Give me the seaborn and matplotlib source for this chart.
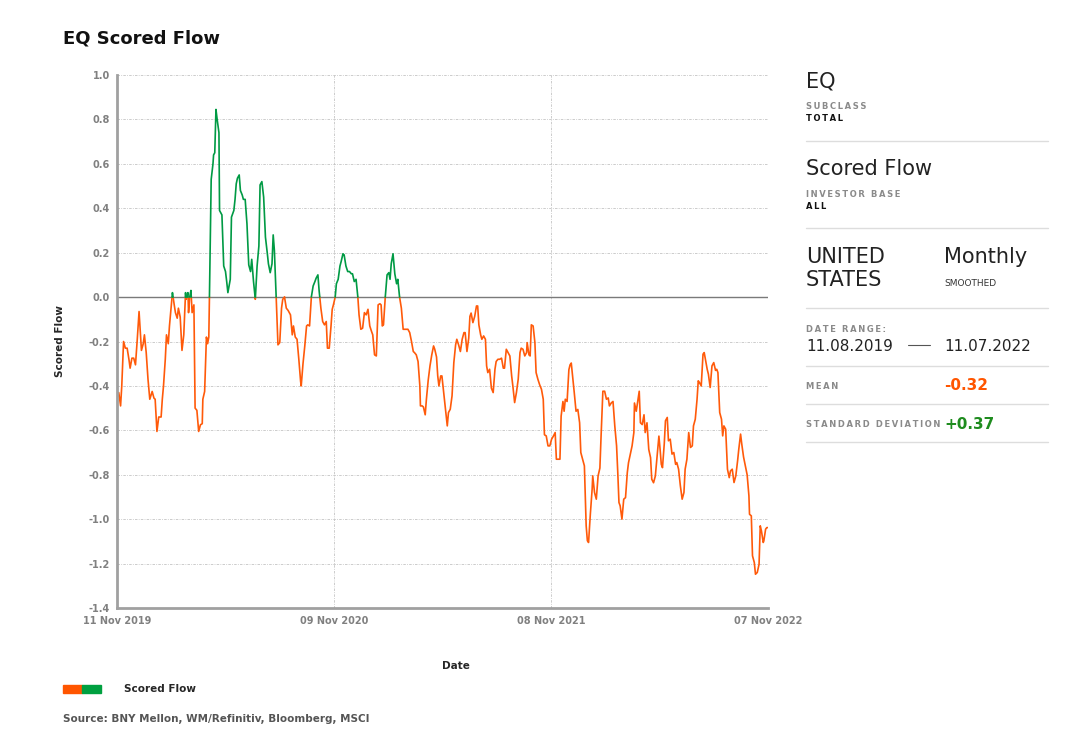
import pandas as pd
import numpy as np
import matplotlib
matplotlib.use('Agg')
import matplotlib.pyplot as plt
import matplotlib.dates as mdates
from matplotlib.patches import Rectangle
from matplotlib.lines import Line2D
import seaborn as sns

# scored flow values
dates = [
    '2019-11-11', '2019-11-14', '2019-11-17', '2019-11-19', '2019-11-22', '2019-11-25', '2019-11-28',
    '2019-12-01', '2019-12-03', '2019-12-06', '2019-12-09', '2019-12-12', '2019-12-15', '2019-12-18',
    '2019-12-22', '2019-12-25', '2019-12-27', '2019-12-30', '2020-01-02', '2020-01-05', '2020-01-09',
    '2020-01-12', '2020-01-14', '2020-01-17', '2020-01-20', '2020-01-24', '2020-01-26', '2020-01-28',
    '2020-01-31', '2020-02-02', '2020-02-05', '2020-02-07', '2020-02-10', '2020-02-12', '2020-02-15',
    '2020-02-17', '2020-02-20', '2020-02-22', '2020-02-25', '2020-02-28', '2020-03-02', '2020-03-05',
    '2020-03-06', '2020-03-09', '2020-03-10', '2020-03-12', '2020-03-14', '2020-03-16', '2020-03-19',
    '2020-03-21', '2020-03-24', '2020-03-27', '2020-03-30', '2020-04-02', '2020-04-03', '2020-04-06',
    '2020-04-09', '2020-04-11', '2020-04-13', '2020-04-14', '2020-04-17', '2020-04-20', '2020-04-21',
    '2020-04-23', '2020-04-25', '2020-04-27', '2020-04-30', '2020-05-01', '2020-05-05', '2020-05-08',
    '2020-05-11', '2020-05-13', '2020-05-15', '2020-05-17', '2020-05-19', '2020-05-21', '2020-05-25',
    '2020-05-27', '2020-05-29', '2020-05-31', '2020-06-03', '2020-06-05', '2020-06-08', '2020-06-10',
    '2020-06-13', '2020-06-16', '2020-06-19', '2020-06-22', '2020-06-24', '2020-06-27', '2020-06-30',
    '2020-07-03', '2020-07-06', '2020-07-08', '2020-07-11', '2020-07-14', '2020-07-17', '2020-07-20',
    '2020-07-22', '2020-07-25', '2020-07-28', '2020-07-30', '2020-08-01', '2020-08-04', '2020-08-07',
    '2020-08-10', '2020-08-13', '2020-08-15', '2020-08-18', '2020-08-21', '2020-08-24', '2020-08-28',
    '2020-08-31', '2020-09-02', '2020-09-05', '2020-09-08', '2020-09-11', '2020-09-14', '2020-09-15',
    '2020-09-18', '2020-09-21', '2020-09-24', '2020-09-26', '2020-09-29', '2020-10-02', '2020-10-05',
    '2020-10-08', '2020-10-10', '2020-10-13', '2020-10-15', '2020-10-18', '2020-10-21', '2020-10-24',
    '2020-10-27', '2020-10-29', '2020-11-01', '2020-11-04', '2020-11-06', '2020-11-08', '2020-11-11',
    '2020-11-13', '2020-11-16', '2020-11-19', '2020-11-21', '2020-11-24', '2020-11-26', '2020-11-29',
    '2020-12-02', '2020-12-05', '2020-12-08', '2020-12-10', '2020-12-13', '2020-12-16', '2020-12-19',
    '2020-12-21', '2020-12-24', '2020-12-27', '2020-12-30', '2021-01-02', '2021-01-05', '2021-01-08',
    '2021-01-11', '2021-01-13', '2021-01-16', '2021-01-19', '2021-01-22', '2021-01-25', '2021-01-27',
    '2021-01-29', '2021-01-31', '2021-02-03', '2021-02-06', '2021-02-09', '2021-02-11', '2021-02-13',
    '2021-02-16', '2021-02-19', '2021-02-22', '2021-02-24', '2021-02-27', '2021-03-02', '2021-03-05',
    '2021-03-08', '2021-03-10', '2021-03-13', '2021-03-16', '2021-03-19', '2021-03-22', '2021-03-24',
    '2021-03-27', '2021-03-30', '2021-04-02', '2021-04-03', '2021-04-06', '2021-04-08', '2021-04-11',
    '2021-04-13', '2021-04-16', '2021-04-19', '2021-04-22', '2021-04-25', '2021-04-27', '2021-04-30',
    '2021-05-02', '2021-05-04', '2021-05-07', '2021-05-09', '2021-05-12', '2021-05-15', '2021-05-18',
    '2021-05-20', '2021-05-23', '2021-05-26', '2021-05-29', '2021-06-01', '2021-06-03', '2021-06-06',
    '2021-06-09', '2021-06-12', '2021-06-15', '2021-06-17', '2021-06-20', '2021-06-23', '2021-06-25',
    '2021-06-27', '2021-06-30', '2021-07-03', '2021-07-06', '2021-07-08', '2021-07-10', '2021-07-13',
    '2021-07-15', '2021-07-18', '2021-07-21', '2021-07-23', '2021-07-25', '2021-07-28', '2021-07-31',
    '2021-08-03', '2021-08-06', '2021-08-08', '2021-08-11', '2021-08-14', '2021-08-17', '2021-08-20',
    '2021-08-22', '2021-08-25', '2021-08-28', '2021-08-31', '2021-09-03', '2021-09-05', '2021-09-08',
    '2021-09-11', '2021-09-14', '2021-09-17', '2021-09-19', '2021-09-22', '2021-09-25', '2021-09-28',
    '2021-09-29', '2021-10-02', '2021-10-04', '2021-10-06', '2021-10-09', '2021-10-12', '2021-10-14',
    '2021-10-17', '2021-10-20', '2021-10-23', '2021-10-26', '2021-10-28', '2021-10-31', '2021-11-03',
    '2021-11-06', '2021-11-09', '2021-11-12', '2021-11-15', '2021-11-17', '2021-11-20', '2021-11-23',
    '2021-11-25', '2021-11-28', '2021-11-30', '2021-12-02', '2021-12-05', '2021-12-08', '2021-12-10',
    '2021-12-12', '2021-12-14', '2021-12-17', '2021-12-20', '2021-12-23', '2021-12-26', '2021-12-28',
    '2021-12-31', '2022-01-03', '2022-01-06', '2022-01-08', '2022-01-10', '2022-01-13', '2022-01-16',
    '2022-01-17', '2022-01-20', '2022-01-23', '2022-01-26', '2022-01-29', '2022-01-31', '2022-02-03',
    '2022-02-06', '2022-02-09', '2022-02-12', '2022-02-14', '2022-02-17', '2022-02-20', '2022-02-23',
    '2022-02-26', '2022-02-28', '2022-03-02', '2022-03-04', '2022-03-07', '2022-03-10', '2022-03-13',
    '2022-03-16', '2022-03-18', '2022-03-21', '2022-03-24', '2022-03-27', '2022-03-28', '2022-03-31',
    '2022-04-03', '2022-04-05', '2022-04-07', '2022-04-10', '2022-04-13', '2022-04-15', '2022-04-18',
    '2022-04-21', '2022-04-24', '2022-04-26', '2022-04-29', '2022-05-02', '2022-05-05', '2022-05-08',
    '2022-05-10', '2022-05-12', '2022-05-14', '2022-05-17', '2022-05-19', '2022-05-22', '2022-05-24',
    '2022-05-27', '2022-05-30', '2022-06-02', '2022-06-05', '2022-06-07', '2022-06-10', '2022-06-13',
    '2022-06-16', '2022-06-19', '2022-06-21', '2022-06-24', '2022-06-27', '2022-06-30', '2022-07-03',
    '2022-07-05', '2022-07-08', '2022-07-11', '2022-07-13', '2022-07-15', '2022-07-18', '2022-07-21',
    '2022-07-23', '2022-07-25', '2022-07-28', '2022-07-30', '2022-08-02', '2022-08-05', '2022-08-08',
    '2022-08-11', '2022-08-13', '2022-08-15', '2022-08-18', '2022-08-21', '2022-08-23', '2022-08-25',
    '2022-08-28', '2022-08-31', '2022-09-03', '2022-09-05', '2022-09-08', '2022-09-11', '2022-09-14',
    '2022-09-17', '2022-09-19', '2022-09-22', '2022-09-24', '2022-09-27', '2022-09-30', '2022-10-03',
    '2022-10-06', '2022-10-07', '2022-10-10', '2022-10-12', '2022-10-15', '2022-10-17', '2022-10-20',
    '2022-10-23', '2022-10-25', '2022-10-27', '2022-10-30', '2022-10-31', '2022-11-03', '2022-11-05',
    '2022-11-07',
]
scores = [
    -0.455, -0.43, -0.49, -0.40, -0.20, -0.23, -0.23,
    -0.28, -0.32, -0.275, -0.275, -0.305, -0.19, -0.065,
    -0.24, -0.21, -0.17, -0.25, -0.37, -0.46, -0.425,
    -0.455, -0.46, -0.605, -0.54, -0.54, -0.46, -0.40,
    -0.28, -0.17, -0.21, -0.13, -0.04, 0.02, -0.035,
    -0.07, -0.095, -0.05, -0.09, -0.24, -0.17, 0.02,
    -0.01, 0.02, -0.07, 0.0, 0.03, -0.07, -0.035,
    -0.50, -0.51, -0.605, -0.575, -0.57, -0.46, -0.425,
    -0.18, -0.21, -0.18, -0.01, 0.53, 0.60, 0.64,
    0.65, 0.845, 0.80, 0.74, 0.39, 0.37, 0.14,
    0.115, 0.07, 0.02, 0.05, 0.08, 0.36, 0.39,
    0.44, 0.51, 0.535, 0.55, 0.48, 0.46, 0.44,
    0.44, 0.33, 0.145, 0.115, 0.17, 0.07, -0.01,
    0.14, 0.23, 0.505, 0.52, 0.45, 0.27, 0.20,
    0.15, 0.11, 0.15, 0.28, 0.21, 0.0, -0.215,
    -0.205, -0.05, -0.01, 0.0, -0.05, -0.06, -0.08,
    -0.17, -0.13, -0.18, -0.19, -0.28, -0.38, -0.40,
    -0.30, -0.22, -0.13, -0.125, -0.13, 0.0, 0.05,
    0.07, 0.085, 0.10, 0.03, -0.05, -0.11, -0.125,
    -0.11, -0.23, -0.23, -0.13, -0.055, -0.035, 0.0,
    0.06, 0.08, 0.14, 0.16, 0.195, 0.19, 0.14,
    0.115, 0.115, 0.105, 0.105, 0.07, 0.08, 0.0,
    -0.08, -0.145, -0.14, -0.07, -0.08, -0.055, -0.13,
    -0.155, -0.17, -0.26, -0.265, -0.035, -0.03, -0.035,
    -0.13, -0.125, 0.0, 0.10, 0.11, 0.08, 0.15,
    0.195, 0.105, 0.06, 0.08, 0.0, -0.05, -0.145,
    -0.145, -0.145, -0.145, -0.16, -0.20, -0.245, -0.25,
    -0.26, -0.29, -0.40, -0.49, -0.49, -0.495, -0.53,
    -0.46, -0.375, -0.31, -0.26, -0.22, -0.235, -0.27,
    -0.355, -0.40, -0.355, -0.355, -0.43, -0.505, -0.58,
    -0.52, -0.505, -0.445, -0.295, -0.215, -0.19, -0.215,
    -0.245, -0.19, -0.16, -0.16, -0.245, -0.185, -0.087,
    -0.072, -0.115, -0.087, -0.04, -0.04, -0.125, -0.17,
    -0.19, -0.175, -0.19, -0.31, -0.34, -0.325, -0.41,
    -0.43, -0.325, -0.29, -0.28, -0.28, -0.275, -0.32,
    -0.32, -0.235, -0.25, -0.265, -0.355, -0.40, -0.475,
    -0.43, -0.37, -0.25, -0.23, -0.235, -0.265, -0.25,
    -0.205, -0.26, -0.265, -0.125, -0.13, -0.205, -0.34,
    -0.37, -0.395, -0.415, -0.46, -0.62, -0.625, -0.67,
    -0.67, -0.64, -0.626, -0.61, -0.73, -0.73, -0.73,
    -0.536, -0.47, -0.514, -0.46, -0.47, -0.327, -0.305,
    -0.297, -0.35, -0.43, -0.514, -0.506, -0.566, -0.70,
    -0.73, -0.76, -1.03, -1.097, -1.105, -0.977, -0.865,
    -0.805, -0.88, -0.91, -0.805, -0.77, -0.626, -0.424,
    -0.424, -0.46, -0.454, -0.49, -0.477, -0.47, -0.58,
    -0.67, -0.79, -0.925, -0.94, -1.0, -0.91, -0.903,
    -0.79, -0.746, -0.708, -0.67, -0.61, -0.477, -0.514,
    -0.46, -0.424, -0.566, -0.574, -0.53, -0.61, -0.566,
    -0.686, -0.723, -0.82, -0.836, -0.806, -0.716, -0.626,
    -0.686, -0.753, -0.768, -0.66, -0.557, -0.542, -0.647,
    -0.64, -0.707, -0.70, -0.753, -0.745, -0.775, -0.85,
    -0.91, -0.88, -0.775, -0.73, -0.61, -0.677, -0.67,
    -0.58, -0.55, -0.46, -0.377, -0.385, -0.40, -0.257,
    -0.25, -0.28, -0.325, -0.347, -0.407, -0.31, -0.295,
    -0.33, -0.325, -0.34, -0.52, -0.55, -0.625, -0.58,
    -0.595, -0.775, -0.813, -0.783, -0.775, -0.835, -0.805,
    -0.737, -0.685, -0.617, -0.662, -0.72, -0.76, -0.80,
    -0.895, -0.978, -0.985, -1.165, -1.195, -1.248, -1.24,
    -1.203, -1.03, -1.053, -1.105, -1.098, -1.045, -1.038,
    -1.038,
]

date_ticks = ['2019-11-11', '2020-11-09', '2021-11-08', '2022-11-07']
y_ticks = [-1.4, -1.2, -1.0, -0.8, -0.6, -0.4, -0.2, 0.0, 0.2, 0.4, 0.6, 0.8, 1.0]

panel_asset = 'EQ'
panel_subclass = 'TOTAL'
panel_measure = 'Scored Flow'
panel_investor = 'ALL'
panel_country = ['UNITED', 'STATES']
panel_freq = 'Monthly'
panel_start = '11.08.2019'
panel_end = '11.07.2022'
panel_mean = '-0.32'
panel_std = '+0.37'

ORANGE = '#ff5a0a'
GREEN = '#009a44'

sns.set_style('white')
plt.rcParams['font.family'] = ['DejaVu Sans']
plt.rcParams['axes.unicode_minus'] = False

df = pd.DataFrame({'date': pd.to_datetime(dates), 'score': scores})

# split the line where it crosses zero so each piece gets one colour
rows = []
seg = 0
prev = None
for d, v in zip(df['date'], df['score']):
    pos = v >= 0
    if prev is not None and pos != prev[2]:
        pdate, pval, ppos = prev
        frac = pval / (pval - v)
        cross = pdate + (d - pdate) * frac
        rows.append((cross, 0.0, seg, 'pos' if ppos else 'neg'))
        seg += 1
        rows.append((cross, 0.0, seg, 'pos' if pos else 'neg'))
    rows.append((d, v, seg, 'pos' if pos else 'neg'))
    prev = (d, v, pos)
segs = pd.DataFrame(rows, columns=['date', 'score', 'seg', 'sign'])

W, H = 1076, 746
fig = plt.figure(figsize=(W / 100, H / 100), dpi=100)


def fx(px):
    return px / W


def fy(py):
    return 1 - py / H


ax = fig.add_axes([fx(117), fy(608), fx(768) - fx(117), fy(75) - fy(608)])

grid_kw = dict(color='#c4c4c4', lw=0.6, ls=(0, (3, 1.5, 1, 1.5)), zorder=0)
for yv in y_ticks:
    ax.axhline(yv, **grid_kw)
for d in date_ticks:
    ax.axvline(pd.Timestamp(d), **grid_kw)
ax.axhline(0, color='#7a7a7a', lw=1.0, zorder=1)

sns.lineplot(data=segs, x='date', y='score', hue='sign', units='seg', estimator=None,
             palette={'pos': GREEN, 'neg': ORANGE}, lw=1.2, legend=False, sort=False, ax=ax)

ax.set_xlim(pd.Timestamp(date_ticks[0]), pd.Timestamp(date_ticks[-1]))
ax.set_ylim(-1.4, 1.0)
ax.set_yticks(y_ticks)
ax.set_yticklabels([f'{t:.1f}' for t in y_ticks])
ax.set_xticks(pd.to_datetime(date_ticks))
ax.xaxis.set_major_formatter(mdates.DateFormatter('%d %b %Y'))
ax.tick_params(axis='both', length=3, width=1, color='#999999', labelsize=7, labelcolor='#808080', pad=2)
for lab in ax.get_xticklabels() + ax.get_yticklabels():
    lab.set_fontweight('bold')
ax.tick_params(axis='x', pad=3)
for side in ['top', 'right']:
    ax.spines[side].set_visible(False)
for side in ['left', 'bottom']:
    ax.spines[side].set_color('#a0a0a0')
    ax.spines[side].set_linewidth(2)
ax.set_xlabel('')
ax.set_ylabel('')

# titles and labels
fig.text(fx(63), fy(44), 'EQ Scored Flow', fontsize=13, fontweight='bold', color='#111111', va='baseline')
fig.text(fx(60), fy(341), 'Scored Flow', fontsize=7.5, fontweight='bold', rotation=90, ha='center', va='center')
fig.text(fx(456), fy(666), 'Date', fontsize=7.5, fontweight='bold', ha='center', va='center')

# legend
fig.patches.append(Rectangle((fx(63), fy(693)), fx(19), fy(685) - fy(693), transform=fig.transFigure,
                             color='#ff5500', figure=fig))
fig.patches.append(Rectangle((fx(82), fy(693)), fx(19), fy(685) - fy(693), transform=fig.transFigure,
                             color='#00a040', figure=fig))
fig.text(fx(124), fy(689), 'Scored Flow', fontsize=7.5, fontweight='bold', va='center')
fig.text(fx(63), fy(719), 'Source: BNY Mellon, WM/Refinitiv, Bloomberg, MSCI', fontsize=7.5,
         fontweight='bold', color='#555555', va='center')


# right hand info panel
def spaced(s):
    return '\u2009'.join(s)


def small(px, py, s, color='#8a8a8a'):
    fig.text(fx(px), fy(py), spaced(s), fontsize=6, fontweight='bold', color=color, va='baseline')


def sep(py):
    fig.add_artist(Line2D([fx(806), fx(1048)], [fy(py), fy(py)], color='#dddddd', lw=1,
                          transform=fig.transFigure))


big = dict(fontsize=15, color='#222222', va='baseline')
fig.text(fx(806), fy(87), panel_asset, **big)
small(806, 109, 'SUBCLASS')
small(806, 121, panel_subclass, color='#111111')
sep(141)
fig.text(fx(806), fy(175), panel_measure, **big)
small(806, 197, 'INVESTOR BASE')
small(806, 209, panel_investor, color='#111111')
sep(228)
fig.text(fx(806), fy(263), panel_country[0], **big)
fig.text(fx(806), fy(286), panel_country[1], **big)
fig.text(fx(944), fy(263), panel_freq, **big)
fig.text(fx(944), fy(286), 'SMOOTHED', fontsize=6.5, color='#333333', va='baseline')
sep(308)
small(806, 332, 'DATE RANGE:')
fig.text(fx(806), fy(351), panel_start, fontsize=11, color='#222222', va='baseline')
fig.add_artist(Line2D([fx(908), fx(930)], [fy(345), fy(345)], color='#555555', lw=0.8,
                      transform=fig.transFigure))
fig.text(fx(944), fy(351), panel_end, fontsize=11, color='#222222', va='baseline')
sep(366)
small(806, 389, 'MEAN')
fig.text(fx(944), fy(390), panel_mean, fontsize=11, fontweight='bold', color='#ff5500', va='baseline')
sep(404)
small(806, 427, 'STANDARD DEVIATION')
fig.text(fx(944), fy(429), panel_std, fontsize=11, fontweight='bold', color='#1f8c1f', va='baseline')
sep(442)

fig.savefig('out.png', dpi=100)
